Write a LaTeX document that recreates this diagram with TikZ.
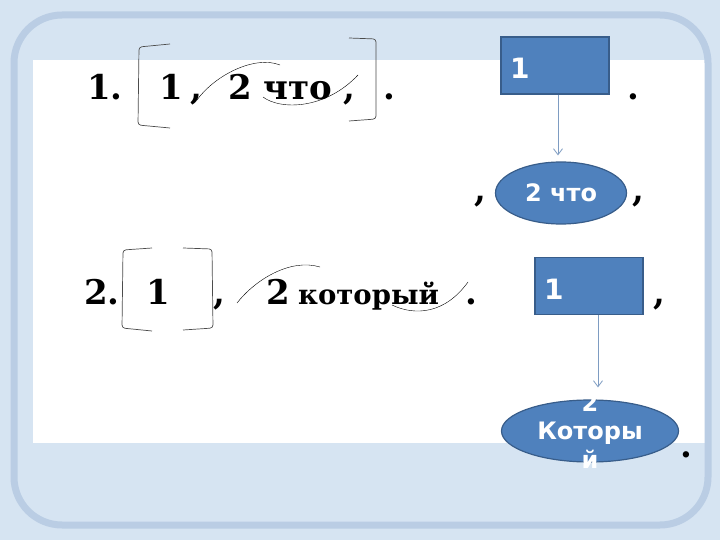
\documentclass[tikz,border=0pt]{standalone}
\usepackage{fontspec}
\setmainfont{DejaVu Serif}
\newfontfamily\boxfont{DejaVu Sans}
\usetikzlibrary{shapes.geometric,arrows.meta}
\definecolor{bgblue}{HTML}{D6E4F2}
\definecolor{frameblue}{HTML}{BACDE4}
\definecolor{boxfill}{HTML}{4F81BD}
\definecolor{boxline}{HTML}{385D8A}
\definecolor{arrline}{HTML}{7E9CC2}

\begin{document}
\begin{tikzpicture}[x=1pt, y=-1pt,
    word/.style={inner sep=0pt, anchor=base west, font=\fontsize{34}{38}\selectfont\bfseries},
    small/.style={inner sep=0pt, anchor=base west, font=\fontsize{27.5}{30}\selectfont\bfseries},
    box/.style={rectangle, draw=boxline, line width=1.2pt, fill=boxfill, minimum width=108pt, minimum height=57pt},
    oval/.style={ellipse, draw=boxline, line width=1.2pt, fill=boxfill, inner sep=0pt},
    ovaltext/.style={inner sep=0pt, text=white, align=center, font=\boxfont\fontsize{24}{28.5}\selectfont\bfseries},
    boxnum/.style={inner sep=0pt, anchor=west, text=white, font=\boxfont\fontsize{28}{30}\selectfont\bfseries},
    arr/.style={-{Straight Barb[length=6pt,width=9pt]}, arrline, line width=0.8pt},
    brk/.style={black!70, line width=0.7pt, rounded corners=3pt}]
    \useasboundingbox (0,0) rectangle (720,540);

    % Draw background and frame
    \fill[bgblue] (0,0) rectangle (720,540);
    \fill[white] (33,60) rectangle (705,443);
    \draw[frameblue, line width=7pt, rounded corners=48pt] (14,15) rectangle (708,525);

    % Sentence 1
    \node[word] (n1) at (87,100) {1.};
    \node[word] (a1) at (159,100) {1};
    \node[word] (c1) at (190,100) {,};
    \node[word] (b1) at (228,100) {2 что};
    \node[word] (c2) at (343,100) {,};
    \node[word] (p1) at (383,100) {.};
    \draw[brk] (170,44) -- (139,47) -- (138,125) -- (170,128);
    \draw[brk] (349,38) -- (376,39) -- (376,119) -- (349,121);
    \draw[thin] (197,100) .. controls (215,75) and (255,55) .. (280,65);
    \draw[thin] (263,97) .. controls (280,110) and (325,110) .. (358,75);

    % Sentence 2
    \node[word] (n2) at (84,304) {2.};
    \node[word] (a2) at (146,304) {1};
    \node[word] (c3) at (213,304) {,};
    \node[word] (b2) at (266,304) {2};
    \node[small] (w2) at (298,304) {который};
    \node[word] (p2) at (465,304) {.};
    \draw[brk] (152,248) -- (123,250) -- (122,328) -- (152,331);
    \draw[brk] (183,248) -- (212,249) -- (213,328) -- (183,330);
    \draw[thin] (237,303) .. controls (255,280) and (290,258) .. (320,267);
    \draw[thin] (392,305) .. controls (415,316) and (445,314) .. (468,282);

    % Scheme 1
    \node[box] (boxa) at (555,65.5) {};
    \node[boxnum] (ta) at (510,68) {1};
    \node[word] (pa) at (627,100) {.};
    \node[oval, minimum width=131pt, minimum height=62pt] (ella) at (561,193) {};
    \node[ovaltext] (tc) at (ella.center) {2 что};
    \node[word] (ca) at (474,202) {,};
    \node[word] (cb) at (632,202) {,};
    \draw[arr, shorten >=6pt] ([xshift=3pt]boxa.south) -- ([xshift=3pt]boxa.south |- ella.north);

    % Scheme 2
    \node[box] (boxb) at (589,286) {};
    \node[boxnum] (tb) at (544,289) {1};
    \node[word] (cc) at (653,304) {,};
    \node[oval, minimum width=177pt, minimum height=62pt] (ellb) at (590,431) {};
    \node[ovaltext] (td) at (ellb.center) {2\\Которы\\й};
    \node[word] (pb) at (680,457) {.};
    \draw[arr, shorten >=12pt] ([xshift=9pt]boxb.south) -- ([xshift=9pt]boxb.south |- ellb.north);
\end{tikzpicture}
\end{document}
